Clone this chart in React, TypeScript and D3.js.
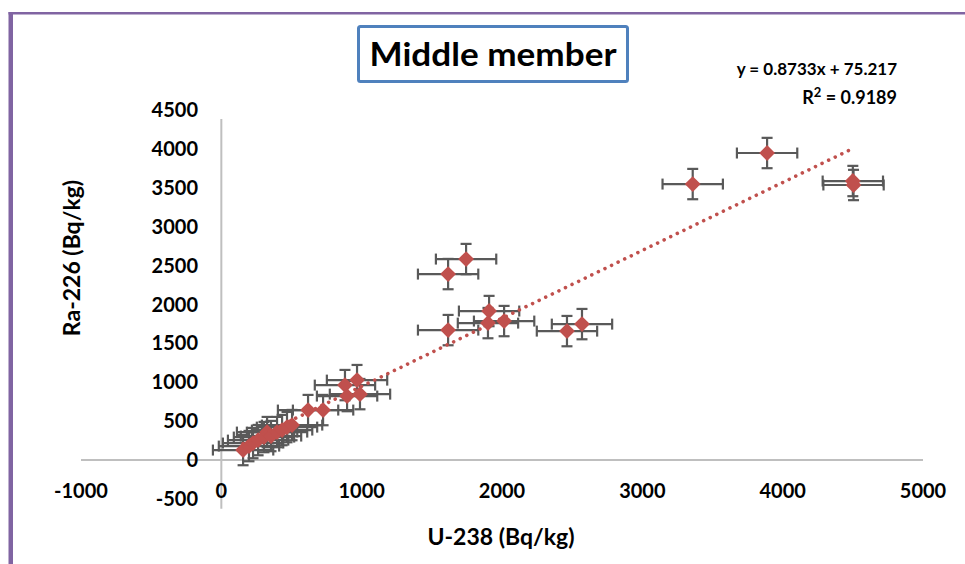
import React from 'react';
import * as d3 from 'd3';

// U-238 (x) and Ra-226 (y) activity, Bq/kg
const u238 = [155, 197, 226, 262, 304, 326, 354, 397, 433, 468, 504,
  618, 725, 881, 967, 896, 988,
  1616, 1744, 1908, 1900, 2015, 1616, 2463, 2570,
  3359, 3889, 4500, 4505];
const ra226 = [129, 180, 219, 257, 296, 360, 309, 360, 386, 424, 450,
  643, 643, 964, 1028, 823, 848,
  2391, 2584, 1916, 1761, 1787, 1671, 1658, 1748,
  3548, 3947, 3587, 3536];
const xErr = 215;
const yErr = 195;

const xTicks = [-1000, 0, 1000, 2000, 3000, 4000, 5000];
const yTicks = [-500, 0, 500, 1000, 1500, 2000, 2500, 3000, 3500, 4000, 4500];

const slope = 0.8733;
const intercept = 75.217;
const eqText = 'y = 0.8733x + 75.217';
const r2Value = '0.9189';

const W = 965;
const H = 564;
const FONT = 'Lato, "DejaVu Sans", sans-serif';
const RED = '#c0504d';
const BAR = '#595959';
const AXIS = '#bfbfbf';

const App = () => {
  const x = d3.scaleLinear().domain([-1000, 5000]).range([81, 923]);
  const y = d3.scaleLinear().domain([-500, 4500]).range([499, 110]);

  const pts = u238.map((u, i) => ({u, r: ra226[i]}));
  const [xMin, xMax] = d3.extent(u238) as [number, number];
  const trend = d3.line<number>()
    .x(d => x(d))
    .y(d => y(slope * d + intercept));

  const cap = 5.5;
  const diamond = d3.symbol().type(d3.symbolDiamond2).size(160)();

  return (
    <div style={{position: 'fixed', left: 0, top: 0}}>
      <svg width={W} height={H} style={{display: 'block', background: '#fff'}}>
        {/* frame */}
        <rect x={8.5} y={12} width={W} height={2.5} fill="#8064a2" />
        <rect x={8.5} y={12} width={4.5} height={H} fill="#8064a2" />

        {/* axis lines */}
        <line x1={x(-1000)} x2={x(5000)} y1={y(0)} y2={y(0)} stroke={AXIS} strokeWidth={2} />
        <line x1={x(0)} x2={x(0)} y1={y(4385)} y2={y(-625)} stroke={AXIS} strokeWidth={2} />

        {/* tick labels */}
        {yTicks.map(t => (
          <text key={'y' + t} x={198} y={y(t)} dy="0.35em" textAnchor="end"
            fontFamily={FONT} fontWeight="bold" fontSize={20}>{t}</text>
        ))}
        {xTicks.map(t => (
          <text key={'x' + t} x={x(t)} y={491} dy="0.35em" textAnchor="middle"
            fontFamily={FONT} fontWeight="bold" fontSize={20}>{t}</text>
        ))}

        {/* error bars */}
        <g stroke={BAR} strokeWidth={2.2}>
          {pts.map((p, i) => {
            const cx = x(p.u), cy = y(p.r);
            const x0 = x(p.u - xErr), x1 = x(p.u + xErr);
            const y0 = y(p.r + yErr), y1 = y(p.r - yErr);
            return (
              <g key={'e' + i}>
                <line x1={x0} x2={x1} y1={cy} y2={cy} />
                <line x1={x0} x2={x0} y1={cy - cap} y2={cy + cap} />
                <line x1={x1} x2={x1} y1={cy - cap} y2={cy + cap} />
                <line x1={cx} x2={cx} y1={y0} y2={y1} />
                <line x1={cx - cap} x2={cx + cap} y1={y0} y2={y0} />
                <line x1={cx - cap} x2={cx + cap} y1={y1} y2={y1} />
              </g>
            );
          })}
        </g>

        {/* markers */}
        {pts.map((p, i) => (
          <path key={'m' + i} d={diamond ?? ''} fill={RED}
            transform={`translate(${x(p.u)},${y(p.r)})`} />
        ))}

        {/* linear trendline */}
        <path d={trend([xMin, xMax]) ?? ''} fill="none" stroke={RED} strokeWidth={3.6}
          strokeLinecap="round" strokeDasharray="0.01 7.3" />

        {/* title */}
        <rect x={358.5} y={26.5} width={269} height={55} rx={2} fill="#fff"
          stroke="#4f81bd" strokeWidth={3} />
        <text x={493} y={66} textAnchor="middle" fontFamily={FONT} fontWeight="bold"
          fontSize={33} textLength={247} lengthAdjust="spacingAndGlyphs">Middle member</text>

        {/* equation */}
        <text x={897} y={75} textAnchor="end" fontFamily={FONT} fontWeight="bold"
          fontSize={17}>{eqText}</text>
        <text x={897} y={104} textAnchor="end" fontFamily={FONT} fontWeight="bold"
          fontSize={18}>
          R<tspan fontSize={13} dy={-7}>2</tspan><tspan dy={7}>{' = ' + r2Value}</tspan>
        </text>

        {/* axis titles */}
        <text transform="translate(72,258) rotate(-90)" textAnchor="middle" dy="0.35em"
          fontFamily={FONT} fontWeight="bold" fontSize={23}>Ra-226 (Bq/kg)</text>
        <text x={501} y={537} textAnchor="middle" dy="0.35em"
          fontFamily={FONT} fontWeight="bold" fontSize={23}>U-238 (Bq/kg)</text>
      </svg>
    </div>
  );
};

export default App;
